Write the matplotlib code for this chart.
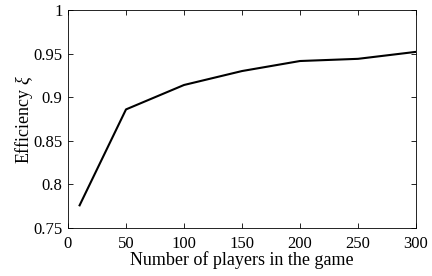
import matplotlib
matplotlib.use("Agg")
import matplotlib.pyplot as plt

players = [10, 50, 100, 150, 200, 250, 300]
efficiency = [0.776, 0.886, 0.914, 0.930, 0.9415, 0.944, 0.952]

xticks = [0, 50, 100, 150, 200, 250, 300]
yticks = [0.75, 0.8, 0.85, 0.9, 0.95, 1]
ytick_labels = ["0.75", "0.8", "0.85", "0.9", "0.95", "1"]

plt.rcParams["font.family"] = ["Liberation Serif", "DejaVu Serif"]
plt.rcParams["mathtext.fontset"] = "custom"
plt.rcParams["mathtext.rm"] = "Liberation Serif"
plt.rcParams["mathtext.it"] = "Liberation Serif:italic"

fig = plt.figure(figsize=(4.32, 2.76), dpi=100)
ax = fig.add_axes([68 / 432, 48 / 276, 348 / 432, 218 / 276])

ax.plot(players, efficiency, color="black", linewidth=1.5)

ax.set_xlim(0, 300)
ax.set_ylim(0.75, 1)
ax.set_xticks(xticks)
ax.set_yticks(yticks)
ax.set_yticklabels(ytick_labels)
ax.tick_params(direction="in", top=True, right=True, labelsize=12, length=3.5, width=0.6)
ax.tick_params(axis="x", pad=6)
ax.tick_params(axis="y", pad=4)
for s in ax.spines.values():
    s.set_linewidth(0.6)

ax.set_xlabel("Number of players in the game", fontsize=13, labelpad=-1)
ax.set_ylabel(r"Efficiency $\it{\xi}$", fontsize=13, labelpad=-1)

fig.savefig("out.png", dpi=100)
